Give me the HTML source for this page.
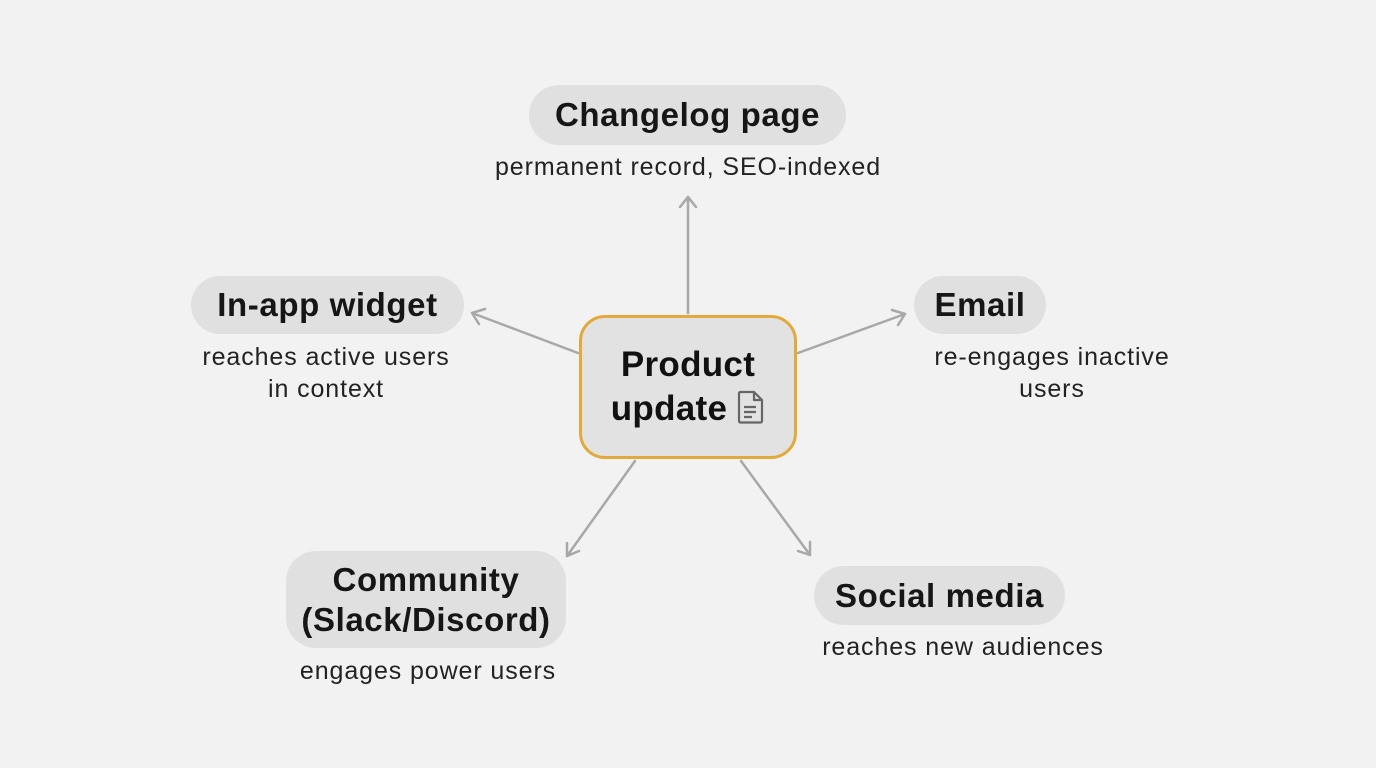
<!DOCTYPE html>
<html><head><style>
body{margin:0;width:1376px;height:768px;background:#f2f2f2;font-family:"Liberation Sans",sans-serif;position:relative;overflow:hidden}
.p{position:absolute;background:#e0e0e0;border-radius:30px;font-weight:bold;font-size:33px;letter-spacing:0.6px;color:#161616;display:flex;align-items:center;justify-content:center;text-align:center;line-height:40px;white-space:nowrap}
.s{position:absolute;font-size:25px;letter-spacing:0.9px;color:#222;text-align:center;line-height:32px;transform:translateX(-50%);white-space:nowrap}
.c{position:absolute;left:579px;top:315px;width:212px;height:138px;border:3px solid #e3a93c;border-radius:26px;background:#e2e2e2;font-weight:bold;font-size:35px;letter-spacing:0.3px;color:#111;text-align:center;line-height:44px;display:flex;align-items:center;justify-content:center}
</style></head><body>
<svg width="1376" height="768" style="position:absolute;left:0;top:0">
<g stroke="#a8a8a8" stroke-width="2.5" fill="none" stroke-linecap="round" stroke-linejoin="round">
<line x1="688" y1="313" x2="688" y2="197"/><polyline points="680,207 688,197 696,207"/>
<line x1="578" y1="353" x2="472" y2="313"/><polyline points="485,309 472,313 479,324"/>
<line x1="798" y1="353" x2="905" y2="314"/><polyline points="892,310 905,314 898,325"/>
<line x1="635" y1="461" x2="567" y2="556"/><polyline points="567,543 567,556 579,551"/>
<line x1="741" y1="461" x2="810" y2="555"/><polyline points="798,551 810,555 810,542"/>
</g></svg>
<div class="p" style="left:529px;top:85px;width:317px;height:60px">Changelog page</div>
<div class="s" style="left:688px;top:151px">permanent record, SEO-indexed</div>
<div class="p" style="left:191px;top:276px;width:273px;height:58px">In-app widget</div>
<div class="s" style="left:326px;top:341px">reaches active users<br>in context</div>
<div class="p" style="left:914px;top:276px;width:132px;height:58px">Email</div>
<div class="s" style="left:1052px;top:341px">re-engages inactive<br>users</div>
<div class="c"><div>Product<br>update <svg width="28" height="34" viewBox="0 0 28 34" style="vertical-align:-4px"><path d="M3 2h14l8 8v21a1.5 1.5 0 0 1-1.5 1.5h-20A1.5 1.5 0 0 1 2 31V3.5A1.5 1.5 0 0 1 3 2z M17 2v8h8 M7 17h12 M7 22h12 M7 27h8" fill="none" stroke="#666" stroke-width="2.2" stroke-linejoin="round"/></svg></div></div>
<div class="p" style="left:286px;top:551px;width:280px;height:97px">Community<br>(Slack/Discord)</div>
<div class="s" style="left:428px;top:655px">engages power users</div>
<div class="p" style="left:814px;top:566px;width:251px;height:59px">Social media</div>
<div class="s" style="left:963px;top:631px">reaches new audiences</div>
</body></html>
